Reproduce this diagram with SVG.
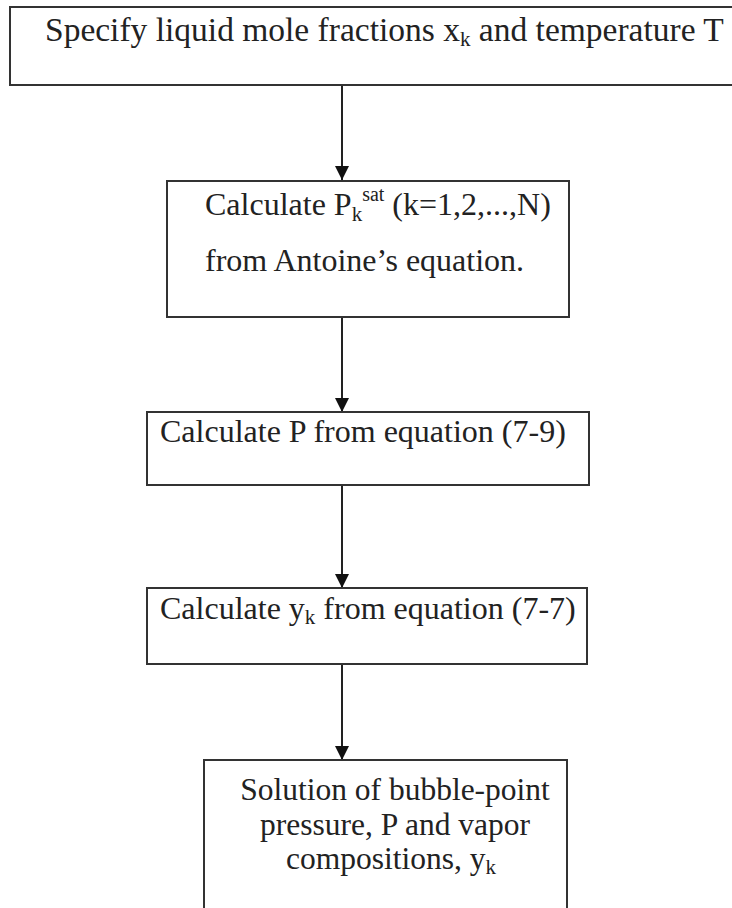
<svg xmlns="http://www.w3.org/2000/svg" width="732" height="908" viewBox="0 0 732 908">
<style>
.box{fill:#fff;stroke:#333;stroke-width:2}
.t{font-family:"Liberation Serif","Times New Roman",serif;font-size:32px;fill:#222}
.big{font-size:33.5px}
.s5{font-size:31.5px}
.sub{font-size:21px}
.sup{font-size:20px}
.edge{stroke:#222;stroke-width:2;fill:none;marker-end:url(#ah)}
</style>
<defs>
<marker id="ah" markerWidth="14" markerHeight="14" refX="14" refY="7" orient="auto" markerUnits="userSpaceOnUse" viewBox="0 0 14 14">
<path d="M0,0 L14,7 L0,14 Z" fill="#111"/>
</marker>
</defs>
<rect width="732" height="908" fill="#fff"/>
<g id="connectors">
<line class="edge" x1="342" y1="85" x2="342" y2="180"/>
<line class="edge" x1="342" y1="317" x2="342" y2="412"/>
<line class="edge" x1="342" y1="485" x2="342" y2="588"/>
<line class="edge" x1="342" y1="664" x2="342" y2="760"/>
</g>
<g id="n1">
<rect class="box" x="10" y="7" width="740" height="78"/>
<text class="t big" x="45" y="41">Specify liquid mole fractions x<tspan class="sub" dy="5">k</tspan><tspan dy="-5"> and temperature T</tspan></text>
</g>
<g id="n2">
<rect class="box" x="167" y="181" width="402" height="136"/>
<text class="t" x="205" y="215">Calculate P<tspan class="sub" dy="6">k</tspan><tspan class="sup" dy="-20">sat</tspan><tspan dy="14"> (k=1,2,...,N)</tspan></text>
<text class="t" x="205" y="271">from Antoine’s equation.</text>
</g>
<g id="n3">
<rect class="box" x="147" y="412" width="442" height="73"/>
<text class="t" x="160" y="442">Calculate P from equation (7-9)</text>
</g>
<g id="n4">
<rect class="box" x="147" y="588" width="440" height="76"/>
<text class="t" x="160" y="619">Calculate y<tspan class="sub" dy="5">k</tspan><tspan dy="-5"> from equation (7-7)</tspan></text>
</g>
<g id="n5">
<rect class="box" x="204" y="760" width="363" height="160"/>
<text class="t s5" x="395" y="800" text-anchor="middle">Solution of bubble-point</text>
<text class="t s5" x="395" y="835" text-anchor="middle">pressure, P and vapor</text>
<text class="t s5" x="391" y="869" text-anchor="middle">compositions, y<tspan class="sub" dy="5">k</tspan></text>
</g>
</svg>
